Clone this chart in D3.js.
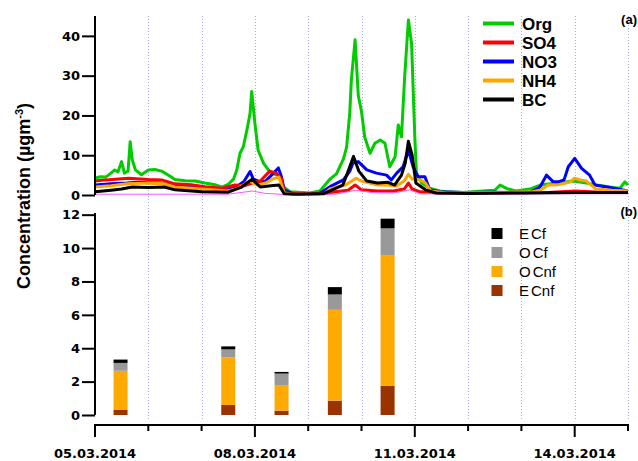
<!DOCTYPE html>
<html>
<head>
<meta charset="utf-8">
<script src="https://cdn.jsdelivr.net/npm/d3@7"></script>
<style>
  html, body { margin: 0; padding: 0; background: #fff; }
  svg { display: block; }
</style>
</head>
<body>
<svg id="chart" width="638" height="461"></svg>
<script>
// ---------------- DATA ----------------
const startDate = new Date(2014, 2, 5);          // 05.03.2014 00:00
const endDate = new Date(2014, 2, 15);
const xTickLabels = ["05.03.2014", "08.03.2014", "11.03.2014", "14.03.2014"];

// time series: [days since 05.03.2014, concentration µg m-3]
const orgSeries = [[0,4.2],[0.1,4.6],[0.2,4.5],[0.3,5.5],[0.37,6.3],[0.43,5.8],[0.5,8.4],[0.55,5.5],[0.62,6],[0.66,13.4],[0.7,8.8],[0.76,6.3],[0.87,5.1],[1.0,6.3],[1.12,6.4],[1.25,6],[1.41,4.7],[1.5,3.9],[1.69,3.6],[1.88,3.5],[2.06,3],[2.25,2.6],[2.38,2],[2.5,2.7],[2.6,4],[2.66,6.3],[2.72,10.5],[2.78,12],[2.85,16.3],[2.91,20.6],[2.94,26],[3.0,18],[3.06,11.3],[3.16,8],[3.28,5.8],[3.41,5],[3.47,5.3],[3.53,2.1],[3.66,0.8],[4.03,0.5],[4.22,1],[4.41,4],[4.53,5.3],[4.66,9],[4.72,12],[4.78,20.6],[4.81,29],[4.88,39],[4.94,25],[5.0,21],[5.06,14.6],[5.16,10.5],[5.25,13],[5.35,13.8],[5.44,13],[5.53,7.1],[5.63,9.6],[5.69,17.6],[5.75,14.6],[5.81,29.7],[5.88,44],[5.94,38],[6.0,14.6],[6.03,5.5],[6.13,3],[6.28,1.7],[6.47,1],[6.6,0.8],[6.91,0.6],[7.28,1],[7.5,1.2],[7.6,2.5],[7.75,1.5],[7.9,1],[8.16,1.5],[8.35,2.5],[8.66,3],[8.97,3.5],[9.22,3],[9.41,2.5],[9.66,2],[9.85,1.7],[9.94,3.3],[10,2.5]];
const so4Series = [[0,3.5],[0.2,3.8],[0.63,4.2],[1.0,3.9],[1.25,3.8],[1.5,2.8],[1.8,2.6],[2.06,2.1],[2.38,1.7],[2.63,2.5],[2.8,2.3],[2.95,3],[3.1,3.5],[3.28,6.0],[3.4,5.5],[3.5,4],[3.55,0.5],[3.7,0.3],[4.3,0.3],[4.5,0.8],[4.75,1.2],[4.88,2.5],[5.0,1.3],[5.3,1],[5.6,1],[5.8,1.5],[5.88,3],[5.95,1.5],[6.1,0.8],[6.5,0.5],[7.5,0.5],[8.5,0.6],[9.0,1],[9.3,0.8],[9.6,0.6],[10,0.8]];
const no3Series = [[0,2.5],[0.3,2.8],[0.6,3],[0.8,3.2],[1.2,3],[1.5,2.5],[2,1.8],[2.4,1.5],[2.66,2.1],[2.8,3.5],[2.91,5.9],[2.97,4],[3.1,3.3],[3.2,3.5],[3.35,5.5],[3.44,6.8],[3.5,4.5],[3.55,1.3],[3.7,0.4],[4.2,0.3],[4.41,2.1],[4.66,3.8],[4.78,6],[4.84,8],[4.94,8.4],[5.1,6.3],[5.28,5.5],[5.47,5],[5.56,3.8],[5.66,5.5],[5.78,7.1],[5.88,11.3],[5.97,7],[6.06,4.6],[6.19,4.6],[6.28,1.3],[6.47,0.8],[6.91,0.6],[7.5,0.7],[8.16,0.6],[8.35,2],[8.47,5],[8.6,3.3],[8.69,3.3],[8.8,3.8],[8.88,7.1],[9.0,9.2],[9.13,6.7],[9.28,5],[9.38,2.5],[9.6,2],[10,1]];
const nh4Series = [[0,2],[0.3,2.3],[0.6,2.8],[1.0,3],[1.3,2.8],[1.5,2],[2,1.5],[2.5,1],[2.7,1.8],[2.9,3.5],[3.05,2.5],[3.2,3],[3.33,4],[3.45,4.5],[3.55,0.5],[3.7,0.2],[4.3,0.3],[4.41,1.5],[4.7,2.5],[4.9,4.2],[5.0,3.5],[5.3,2.5],[5.5,2.5],[5.65,2.2],[5.8,3.5],[5.88,5.2],[5.95,4],[6.1,3.8],[6.2,3],[6.3,1],[6.6,0.5],[7.5,0.6],[8.2,0.8],[8.35,1.2],[8.5,2.5],[8.7,2.6],[8.9,3.2],[9.0,4.2],[9.1,3.8],[9.22,3.5],[9.4,1.5],[9.7,1.2],[10,1]];
const bcSeries = [[0,0.8],[0.3,1.2],[0.5,1.5],[0.7,2],[1.0,1.9],[1.3,2],[1.5,1.3],[2,0.8],[2.5,0.7],[2.75,2],[2.95,4],[3.1,2],[3.3,2.3],[3.45,2.5],[3.55,0.3],[3.8,0.2],[4.3,0.4],[4.45,1.3],[4.65,2.5],[4.75,6],[4.85,9.7],[4.95,6],[5.1,3.5],[5.3,3],[5.5,3.2],[5.62,2.5],[5.75,5],[5.82,8],[5.88,13.5],[5.95,10],[6.02,3],[6.2,1.3],[6.4,0.5],[7,0.4],[8,0.5],[9,0.6],[10,0.6]];
const chlSeries = [[0,0.2],[2.5,0.2],[2.95,1],[3.2,0.4],[3.6,0.1],[4.5,0.2],[4.9,1.2],[5.2,0.6],[5.6,0.5],[5.9,1.3],[6.1,0.3],[7,0.2],[8.5,0.3],[10,0.3]];

const seriesNames = ["Org", "SO4", "NO3", "NH4", "BC"];
const seriesColors = ["#00cc00", "#ff0000", "#0000ff", "#ffa500", "#000000"];

// bar (filter) samples
const barDates = ["2014-03-05T11:30", "2014-03-07T12:00", "2014-03-08T12:00", "2014-03-09T12:00", "2014-03-10T11:45"];
const ECnf = [0.30, 0.60, 0.26, 0.86, 1.76];
const OCnf = [2.35, 2.85, 1.50, 5.44, 7.82];
const OCf  = [0.47, 0.48, 0.72, 0.92, 1.60];
const ECf  = [0.20, 0.18, 0.10, 0.44, 0.58];
const barKeys = ["ECnf", "OCnf", "OCf", "ECf"];
const barColors = {ECnf: "#993300", OCnf: "#ffaa00", OCf: "#999999", ECf: "#000000"};

const topTicks = [0, 10, 20, 30, 40];
const bottomTicks = [0, 2, 4, 6, 8, 10, 12];

// ---------------- LAYOUT ----------------
const svg = d3.select("#chart");
const X0 = 95, X1 = 628;
const x = d3.scaleTime().domain([startDate, endDate]).range([X0, X1]);
const yTop = d3.scaleLinear().domain([0, 45]).range([195, 16]);
const yBot = d3.scaleLinear().domain([0, 12.1]).range([415, 213]);
const dayToDate = d => new Date(startDate.getTime() + d * 86400000);

const tickFont = "'DejaVu Sans', sans-serif";

// vertical dotted grid lines at each day
const days = d3.timeDay.range(startDate, d3.timeDay.offset(endDate, 1));
svg.append("g").selectAll("line").data(days.slice(1)).join("line")
  .attr("x1", d => Math.round(x(d)) + 0.5).attr("x2", d => Math.round(x(d)) + 0.5)
  .attr("y1", 16).attr("y2", 420)
  .attr("stroke", "#a8a8f5").attr("stroke-width", 1).attr("stroke-dasharray", "1,2");

// ---------- top panel lines ----------
const line = d3.line().x(p => x(dayToDate(p[0]))).y(p => yTop(p[1]));
const gLines = svg.append("g");
const drawOrder = [
  {data: orgSeries, color: seriesColors[0], w: 3},
  {data: no3Series, color: seriesColors[2], w: 3},
  {data: so4Series, color: seriesColors[1], w: 3},
  {data: nh4Series, color: seriesColors[3], w: 3},
  {data: chlSeries, color: "#ff55ff", w: 1},
  {data: bcSeries, color: seriesColors[4], w: 3}
];
drawOrder.forEach(s => {
  gLines.append("path").datum(s.data).attr("d", line)
    .attr("fill", "none").attr("stroke", s.color).attr("stroke-width", s.w)
    .attr("stroke-linejoin", "round");
});

// top y axis
const axTop = svg.append("g").attr("transform", `translate(${X0},0)`)
  .call(d3.axisLeft(yTop).tickValues(topTicks).tickSize(13).tickPadding(2));
axTop.select(".domain").attr("stroke-width", 2).attr("d", `M0,${yTop(0)}V16`);
axTop.selectAll(".tick line").attr("stroke-width", 2);
axTop.selectAll("text").attr("font-family", tickFont).attr("font-weight", "bold")
  .attr("font-size", 13).attr("fill", "#000");

// ---------- bottom panel bars ----------
const barRows = barDates.map((d, i) => ({date: new Date(d), ECnf: ECnf[i], OCnf: OCnf[i], OCf: OCf[i], ECf: ECf[i]}));
const stacked = d3.stack().keys(barKeys)(barRows);
const barW = 14;
svg.append("g").selectAll("g").data(stacked).join("g")
  .attr("fill", s => barColors[s.key])
  .selectAll("rect").data(s => s).join("rect")
  .attr("x", d => x(d.data.date) - barW / 2)
  .attr("width", barW)
  .attr("y", d => yBot(d[1]))
  .attr("height", d => yBot(d[0]) - yBot(d[1]));

const axBot = svg.append("g").attr("transform", `translate(${X0},0)`)
  .call(d3.axisLeft(yBot).tickValues(bottomTicks).tickSize(13).tickPadding(2));
axBot.select(".domain").attr("stroke-width", 2).attr("d", `M0,${yBot(0)}V213`);
axBot.selectAll(".tick line").attr("stroke-width", 2);
axBot.selectAll("text").attr("font-family", tickFont).attr("font-weight", "bold")
  .attr("font-size", 13).attr("fill", "#000");

// ---------- x axis ----------
const xAxisY = 425;
const gx = svg.append("g").attr("transform", `translate(0,${xAxisY})`);
gx.append("line").attr("x1", X0 - 1).attr("x2", X1 + 1).attr("y1", 0).attr("y2", 0)
  .attr("stroke", "#000").attr("stroke-width", 2);
gx.selectAll("line.tk").data(days).join("line").attr("class", "tk")
  .attr("x1", d => x(d)).attr("x2", d => x(d))
  .attr("y1", 0).attr("y2", (d, i) => (i % 3 === 0 ? 12 : 6))
  .attr("stroke", "#000").attr("stroke-width", 2);
const labelDates = days.filter((d, i) => i % 3 === 0 && i < 10);
gx.selectAll("text").data(labelDates).join("text")
  .attr("x", d => x(d)).attr("y", 33)
  .attr("text-anchor", "middle")
  .attr("font-family", tickFont).attr("font-weight", "bold").attr("font-size", 13)
  .text((d, i) => xTickLabels[i]);

// ---------- y title ----------
const yTitle = svg.append("text")
  .attr("transform", "translate(30,196) rotate(-90)")
  .attr("text-anchor", "middle")
  .attr("font-family", "'Liberation Sans', Arial, sans-serif")
  .attr("font-weight", "bold").attr("font-size", 18);
yTitle.append("tspan").text("Concentration (µgm");
yTitle.append("tspan").attr("dy", -7).attr("font-size", 11).text("-3");
yTitle.append("tspan").attr("dy", 7).text(")");

// ---------- top legend ----------
const legTop = svg.append("g");
seriesNames.forEach((n, i) => {
  const yy = 23.5 + i * 19;
  legTop.append("line").attr("x1", 483).attr("x2", 514).attr("y1", yy).attr("y2", yy)
    .attr("stroke", seriesColors[i]).attr("stroke-width", 4);
  legTop.append("text").attr("x", 522).attr("y", yy + 6)
    .attr("font-family", "'Liberation Sans', Arial, sans-serif").attr("font-weight", "bold")
    .attr("font-size", 17).text(n);
});

// ---------- bottom legend ----------
const legKeys = ["ECf", "OCf", "OCnf", "ECnf"];
const legBot = svg.append("g");
legKeys.forEach((k, i) => {
  const yy = 233.5 + i * 19;
  legBot.append("rect").attr("x", 491.5).attr("y", yy - 5.5).attr("width", 11).attr("height", 11)
    .attr("fill", barColors[k]);
  const t = legBot.append("text").attr("x", 519).attr("y", yy + 5)
    .attr("font-family", "'Liberation Sans', Arial, sans-serif").attr("font-size", 15);
  t.append("tspan").text(k[0]);
  t.append("tspan").attr("dx", 2).text(k.slice(1));
});

// ---------- panel tags ----------
svg.append("text").attr("x", 637).attr("y", 24).attr("text-anchor", "end")
  .attr("font-family", "'Liberation Sans', Arial, sans-serif").attr("font-weight", "bold")
  .attr("font-size", 13).text("(a)");
svg.append("text").attr("x", 637).attr("y", 216).attr("text-anchor", "end")
  .attr("font-family", "'Liberation Sans', Arial, sans-serif").attr("font-weight", "bold")
  .attr("font-size", 13).text("(b)");
</script>
</body>
</html>
